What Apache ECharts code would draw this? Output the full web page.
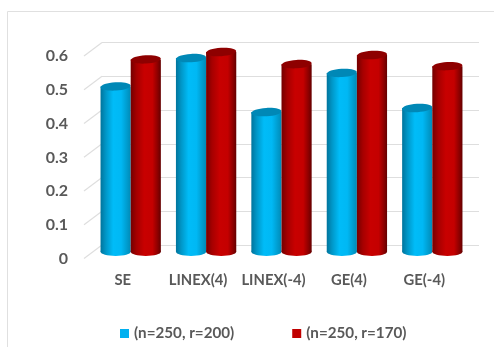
<!DOCTYPE html>
<html>
<head>
<meta charset="utf-8">
<style>html,body{margin:0;padding:0;background:#fff}#c{width:494px;height:347px}</style>
<script src="https://cdn.jsdelivr.net/npm/echarts@6/dist/echarts.min.js"></script>
</head>
<body>
<div id="c"></div>
<script>
// Estimator comparison, cylinders in a pseudo-3D box
const categories = ['SE', 'LINEX(4)', 'LINEX(-4)', 'GE(4)', 'GE(-4)'];
const seriesNames = ['(n=250, r=200)', '(n=250, r=170)'];
const r200 = [0.49, 0.574, 0.414, 0.53, 0.426];
const r170 = [0.57, 0.592, 0.556, 0.583, 0.55];
const wallTicks = [0, 0.1, 0.2, 0.3, 0.4, 0.5, 0.6];

const textColor = '#595959';
const lineColor = '#dedede';
const fontFamily = 'Lato, "Open Sans", sans-serif';
const depth = { x: 18, y: 13.5 };

const chart = echarts.init(document.getElementById('c'), null, { renderer: 'canvas' });

const horizontal = (stops) => ({
  type: 'linear', x: 0, y: 0, x2: 1, y2: 0,
  colorStops: stops.map(([offset, color]) => ({ offset, color }))
});

const skins = [
  {
    solid: '#00b0f0',
    top: '#0088b6',
    body: horizontal([[0, '#00749c'], [0.18, '#0097c8'], [0.42, '#00bcf8'], [0.68, '#00b8f4'], [1, '#008ab6']])
  },
  {
    solid: '#c00000',
    top: '#8e0000',
    body: horizontal([[0, '#740000'], [0.2, '#a60000'], [0.45, '#c80000'], [0.72, '#c40000'], [0.9, '#8a0000'], [1, '#640000']])
  }
];

// One cylinder: the body runs from the zero line up to the value's position
function cylinder(seriesIdx) {
  return function (params, api) {
    const band = api.size([1, 0])[0];
    const w = band * 0.4;
    const top = api.coord([api.value(0), api.value(1)]);
    const base = api.coord([api.value(0), 0]);
    const left = top[0] + (seriesIdx === 0 ? -w : 0);
    const skin = skins[seriesIdx];
    const ry = 4.2;
    return {
      type: 'group',
      children: [
        { type: 'ellipse', shape: { cx: left + w / 2, cy: base[1], rx: w / 2, ry: ry }, style: { fill: skin.body } },
        { type: 'rect', shape: { x: left, y: top[1], width: w, height: base[1] - top[1] }, style: { fill: skin.body } },
        { type: 'ellipse', x: left + w / 2, y: top[1], rotation: 0.06, shape: { cx: 0, cy: 0, rx: w / 2, ry: ry }, style: { fill: skin.top } }
      ]
    };
  };
}

// Slanted wall lines joining the back plane to the front plane
function wallLine(params, api) {
  const y = api.coord([0, api.value(0)])[1];
  const x = params.coordSys.x;
  return {
    type: 'line',
    shape: { x1: x, y1: y, x2: x - depth.x, y2: y + depth.y },
    style: { stroke: lineColor, lineWidth: 1.2 }
  };
}

const valueAxisBase = { type: 'value', min: 0, max: 0.6, interval: 0.1 };
const hiddenY = { show: false };

chart.setOption({
  animation: false,
  backgroundColor: '#fff',
  graphic: [{
    type: 'rect', silent: true,
    shape: { x: 7.5, y: 11.5, width: 600, height: 500 },
    style: { fill: 'none', stroke: '#e0e0e0', lineWidth: 1 }
  }],
  grid: [
    { left: 102, top: 42.5, width: 377, height: 202.5 },
    { left: 93, top: 49.3, width: 377, height: 202.5 },
    { left: 84, top: 56, width: 377, height: 203 }
  ],
  xAxis: [
    { gridIndex: 0, type: 'category', data: categories, show: false },
    { gridIndex: 1, type: 'category', data: categories, show: false },
    {
      gridIndex: 2, type: 'category', data: categories,
      axisLine: { show: false }, axisTick: { show: false }, splitLine: { show: false },
      axisLabel: { color: textColor, fontFamily, fontWeight: 'bold', fontSize: 14.8, margin: 14, interval: 0, padding: [0, 0, 0, 2] }
    }
  ],
  yAxis: [
    Object.assign({}, valueAxisBase, {
      gridIndex: 0,
      axisLine: { show: false }, axisTick: { show: false }, axisLabel: { show: false },
      splitLine: { show: true, lineStyle: { color: lineColor, width: 1.2 } }
    }),
    Object.assign({}, valueAxisBase, { gridIndex: 1 }, hiddenY),
    Object.assign({}, valueAxisBase, {
      gridIndex: 2,
      axisLine: { show: false }, axisTick: { show: false }, splitLine: { show: false },
      axisLabel: { color: textColor, fontFamily, fontWeight: 'bold', fontSize: 16, margin: 16, padding: [5, 0, 0, 0] }
    })
  ],
  legend: {
    left: 120, top: 326, padding: 0, itemWidth: 9, itemHeight: 9, itemGap: 58, icon: 'rect',
    data: seriesNames,
    textStyle: { color: textColor, fontFamily, fontWeight: 'bold', fontSize: 15.2 },
    selectedMode: false
  },
  series: [
    {
      type: 'custom', name: 'walls', xAxisIndex: 0, yAxisIndex: 0, silent: true,
      coordinateSystem: 'cartesian2d', clip: false, data: wallTicks.map(v => [v]),
      encode: { y: 0 }, renderItem: wallLine
    },
    {
      type: 'custom', name: seriesNames[0], xAxisIndex: 1, yAxisIndex: 1, silent: true,
      itemStyle: { color: skins[0].solid }, z: 3,
      data: categories.map((c, i) => [i, r200[i]]), encode: { x: 0, y: 1 },
      renderItem: cylinder(0)
    },
    {
      type: 'custom', name: seriesNames[1], xAxisIndex: 1, yAxisIndex: 1, silent: true,
      itemStyle: { color: skins[1].solid }, z: 4,
      data: categories.map((c, i) => [i, r170[i]]), encode: { x: 0, y: 1 },
      renderItem: cylinder(1)
    }
  ]
});
</script>
</body>
</html>
